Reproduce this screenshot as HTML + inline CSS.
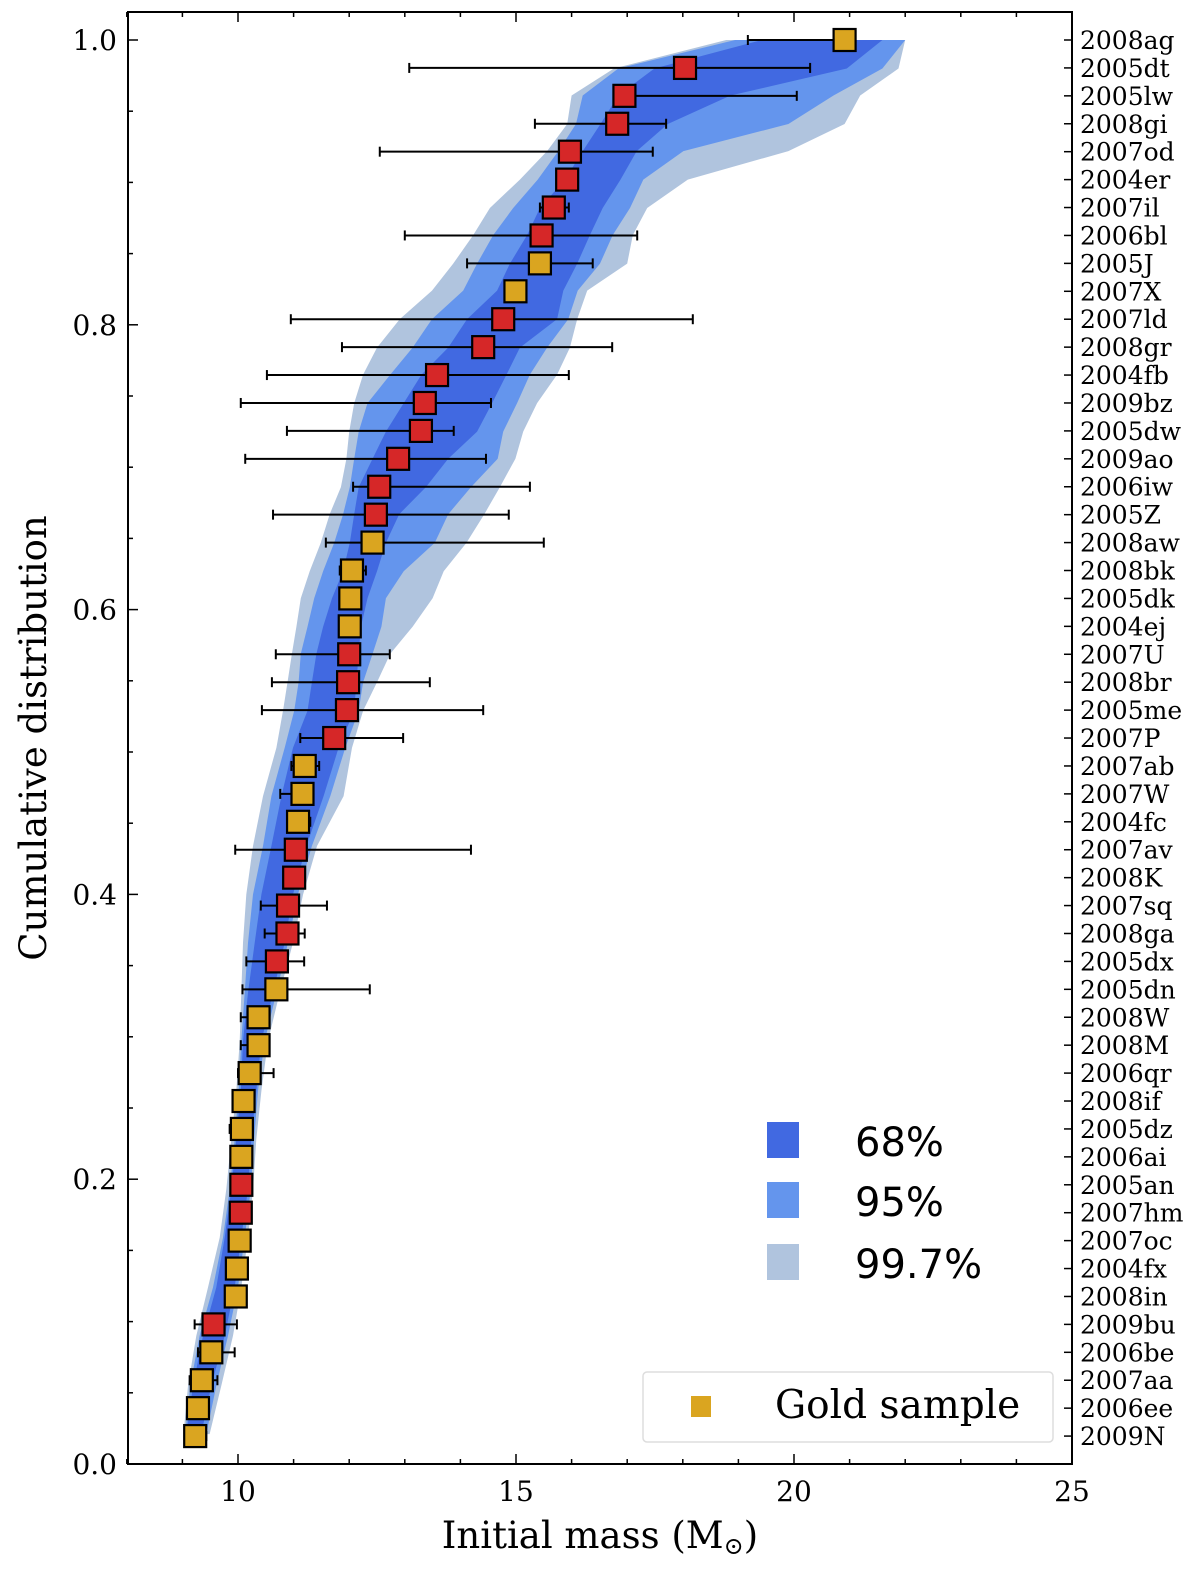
<!DOCTYPE html>
<html><head><meta charset="utf-8"><style>
html,body{margin:0;padding:0;background:#fff;}
svg{display:block;font-family:"DejaVu Serif","Liberation Serif",serif;}
</style></head><body>
<svg id="chart" width="1200" height="1572" viewBox="0 0 1200 1572" xmlns="http://www.w3.org/2000/svg">
<g id="bands"></g>
<g id="errs"></g>
<g id="pts"></g>
<g id="axes"></g>
</svg>
<script>
const names = ["2009N","2006ee","2007aa","2006be","2009bu","2008in","2004fx","2007oc","2007hm","2005an","2006ai","2005dz","2008if","2006qr","2008M","2008W","2005dn","2005dx","2008ga","2007sq","2008K","2007av","2004fc","2007W","2007ab","2007P","2005me","2008br","2007U","2004ej","2005dk","2008bk","2008aw","2005Z","2006iw","2009ao","2005dw","2009bz","2004fb","2008gr","2007ld","2007X","2005J","2006bl","2007il","2004er","2007od","2008gi","2005lw","2005dt","2008ag"];
const masses = [9.23,9.28,9.35,9.52,9.56,9.96,9.98,10.03,10.05,10.06,10.06,10.07,10.10,10.21,10.37,10.37,10.69,10.70,10.89,10.90,11.01,11.04,11.08,11.16,11.20,11.73,11.96,11.98,12.0,12.01,12.02,12.05,12.42,12.48,12.54,12.88,13.29,13.36,13.58,14.41,14.77,14.99,15.43,15.46,15.68,15.92,15.97,16.82,16.95,18.04,20.91];
const errLo = [9.23,null,9.13,9.28,9.22,null,null,null,null,null,null,9.85,null,10.0,10.05,10.05,10.08,10.15,10.48,10.41,null,9.95,11.08,10.76,10.96,11.12,10.43,10.61,10.68,null,null,11.83,11.58,10.63,12.07,10.13,10.88,10.05,10.52,11.87,10.95,14.9,14.12,13.0,15.43,null,12.55,15.34,16.78,13.08,19.17];
const errHi = [9.43,null,9.63,9.94,9.98,null,null,null,null,null,null,10.07,null,10.64,10.37,10.37,12.37,11.19,11.2,11.6,null,14.19,11.3,11.33,11.46,12.97,14.41,13.45,12.73,null,null,12.3,15.5,14.87,15.25,14.46,13.88,14.55,15.95,16.73,18.18,15.1,16.38,17.18,15.95,null,17.46,17.7,20.05,20.29,20.91];
const gold = [1,1,1,1,0,1,1,1,0,0,1,1,1,1,1,1,1,0,0,0,0,0,1,1,1,0,0,0,0,1,1,1,1,0,0,0,0,0,0,0,0,1,1,0,0,0,0,0,0,0,1];
const bandLevels = [0.021,0.055,0.090,0.124,0.159,0.193,0.228,0.262,0.297,0.331,0.366,0.4,0.434,0.469,0.503,0.529,0.549,0.569,0.588,0.608,0.627,0.647,0.667,0.686,0.706,0.725,0.745,0.765,0.784,0.804,0.824,0.843,0.863,0.882,0.902,0.922,0.941,0.961,0.980,1.0];
const b997Lo = [9.02,9.10,9.25,9.46,9.67,9.79,9.88,9.97,10.03,10.06,10.09,10.15,10.27,10.45,10.69,10.81,10.89,10.97,11.05,11.13,11.29,11.49,11.65,11.85,11.95,12.00,12.09,12.25,12.50,12.91,13.49,13.87,14.23,14.53,15.07,15.56,15.92,16.00,16.76,18.78];
const b997Hi = [9.49,9.70,9.91,10.06,10.18,10.27,10.33,10.42,10.54,10.75,10.99,11.17,11.42,11.90,12.05,12.25,12.50,12.74,13.14,13.50,13.70,14.11,14.43,14.71,14.99,15.13,15.38,15.74,15.97,16.10,16.28,17.0,17.1,17.36,18.09,19.90,20.91,21.19,21.88,22.00];
const b95Lo = [9.05,9.14,9.31,9.55,9.73,9.85,9.94,10.01,10.06,10.12,10.18,10.27,10.45,10.60,10.84,11.01,11.09,11.13,11.25,11.37,11.53,11.73,11.89,12.01,12.09,12.17,12.33,12.74,13.14,13.49,14.05,14.30,14.59,14.95,15.39,15.76,16.08,16.20,16.84,18.94];
const b95Hi = [9.43,9.61,9.82,10.0,10.12,10.23,10.29,10.36,10.48,10.69,10.90,11.08,11.33,11.66,11.93,12.17,12.25,12.42,12.58,12.66,12.98,13.54,13.78,14.19,14.67,14.77,15.02,15.25,15.56,15.94,16.11,16.51,16.74,17.05,17.29,18.01,19.90,20.71,21.59,22.00];
const b68Lo = [9.07,9.19,9.37,9.61,9.76,9.88,9.97,10.05,10.09,10.18,10.30,10.42,10.60,10.78,10.99,11.25,11.33,11.41,11.53,11.69,11.89,12.01,12.09,12.17,12.42,12.66,12.98,13.30,13.78,14.12,14.66,14.89,15.20,15.43,15.88,16.20,16.52,16.84,17.49,19.42];
const b68Hi = [9.34,9.52,9.76,9.94,10.06,10.18,10.24,10.33,10.42,10.63,10.84,10.99,11.23,11.54,11.81,12.09,12.13,12.17,12.21,12.33,12.50,12.66,12.90,13.38,13.78,14.30,14.57,14.83,15.07,15.74,15.85,16.10,16.33,16.56,16.88,17.17,17.73,18.86,20.95,21.59];
const xTicks = [10,15,20,25];
const yTicks = [0.0,0.2,0.4,0.6,0.8,1.0];
const yTickLabels = ["0.0","0.2","0.4","0.6","0.8","1.0"];

const L=128,R=1072,T=12,B=1464;
const X = m => 238 + (m-10)*55.6;
const Y = v => 1464 - v*1424;
const NS="http://www.w3.org/2000/svg";
function mk(tag, parent, attrs){const e=document.createElementNS(NS,tag);for(const k in attrs)e.setAttribute(k,attrs[k]);parent.appendChild(e);return e;}

const bands=document.getElementById('bands');
function band(lo,hi,color,name){
  let d="";
  bandLevels.forEach((v,i)=>{d+=(i?"L":"M")+X(lo[i]).toFixed(1)+","+Y(v).toFixed(1);});
  for(let i=bandLevels.length-1;i>=0;i--) d+="L"+X(hi[i]).toFixed(1)+","+Y(bandLevels[i]).toFixed(1);
  const p=mk('path',bands,{d:d+"Z",fill:color,"stroke-linejoin":"round"});
  
  
}
band(b997Lo,b997Hi,"#b0c4de","band-99-7");
band(b95Lo,b95Hi,"#6495ed","band-95");
band(b68Lo,b68Hi,"#4169e1","band-68");

const errs=document.getElementById('errs'), pts=document.getElementById('pts');
names.forEach((n,i)=>{
  const v=(i+1)/51, y=Y(v);
  if(errLo[i]!==null){
    const g=mk('g',errs,{stroke:"#000","stroke-width":2});
    
    
    mk('line',g,{x1:X(errLo[i]),x2:X(errHi[i]),y1:y,y2:y});
    mk('line',g,{x1:X(errLo[i]),x2:X(errLo[i]),y1:y-5,y2:y+5});
    mk('line',g,{x1:X(errHi[i]),x2:X(errHi[i]),y1:y-5,y2:y+5});
  }
  const r=mk('rect',pts,{x:X(masses[i])-11,y:y-11,width:22,height:22,fill:gold[i]?"#daa520":"#d62728",stroke:"#000","stroke-width":2.2});
  
  
});

const ax=document.getElementById('axes');
mk('rect',ax,{x:L,y:T,width:R-L,height:B-T,fill:"none",stroke:"#000","stroke-width":2});
for(let m=8;m<=25;m++){
  const maj=xTicks.includes(m), len=maj?10:5;
  mk('line',ax,{x1:X(m),x2:X(m),y1:B,y2:B-len,stroke:"#000","stroke-width":1.5});
  mk('line',ax,{x1:X(m),x2:X(m),y1:T,y2:T+len,stroke:"#000","stroke-width":1.5});
}
xTicks.forEach(m=>{
  const t=mk('text',ax,{x:X(m),y:1501,"font-size":28,"text-anchor":"middle"});
  t.textContent=m;
  
  
});
for(let k=0;k<=20;k++){
  const v=k*0.05, maj=k%4===0, len=maj?10:5;
  mk('line',ax,{x1:L,x2:L+len,y1:Y(v),y2:Y(v),stroke:"#000","stroke-width":1.5});
}
yTicks.forEach((v,i)=>{
  const t=mk('text',ax,{x:117,y:Y(v)+10,"font-size":28,"text-anchor":"end"});
  t.textContent=yTickLabels[i];
  
  
});
names.forEach((n,i)=>{
  const y=Y((i+1)/51);
  mk('line',ax,{x1:R,x2:R-8,y1:y,y2:y,stroke:"#000","stroke-width":1.5});
  const t=mk('text',ax,{x:1080,y:y+9,"font-size":25});
  t.textContent=n;
  
  
});
const xt=mk('text',ax,{x:600,y:1548,"font-size":37,"text-anchor":"middle"});


xt.appendChild(document.createTextNode("Initial mass (M"));
const sub=mk('tspan',xt,{"font-size":24,dy:6});
sub.textContent="\u2299";
const cl=mk('tspan',xt,{dy:-6});
cl.textContent=")";
const yt=mk('text',ax,{x:0,y:0,"font-size":37,"text-anchor":"middle",transform:"translate(46,738) rotate(-90)"});
yt.textContent="Cumulative distribution";



[["#4169e1","68%",1140],["#6495ed","95%",1200],["#b0c4de","99.7%",1262]].forEach(([c,l,y])=>{
  const g=mk('g',ax,{});
  
  
  mk('rect',g,{x:767,y:y-18,width:32,height:36,fill:c});
  const t=mk('text',g,{x:855,y:y+16,"font-size":40,"font-family":"DejaVu Sans, Liberation Sans, sans-serif"});
  t.textContent=l;
});
const lg=mk('g',ax,{});


mk('rect',lg,{x:643,y:1372,width:410,height:70,rx:4,fill:"#fff","fill-opacity":0.8,stroke:"#ddd","stroke-width":1.5});
mk('rect',lg,{x:691,y:1396,width:20,height:21,fill:"#daa520"});
const gt=mk('text',lg,{x:775,y:1418,"font-size":39});
gt.textContent="Gold sample";
</script>
</body></html>
